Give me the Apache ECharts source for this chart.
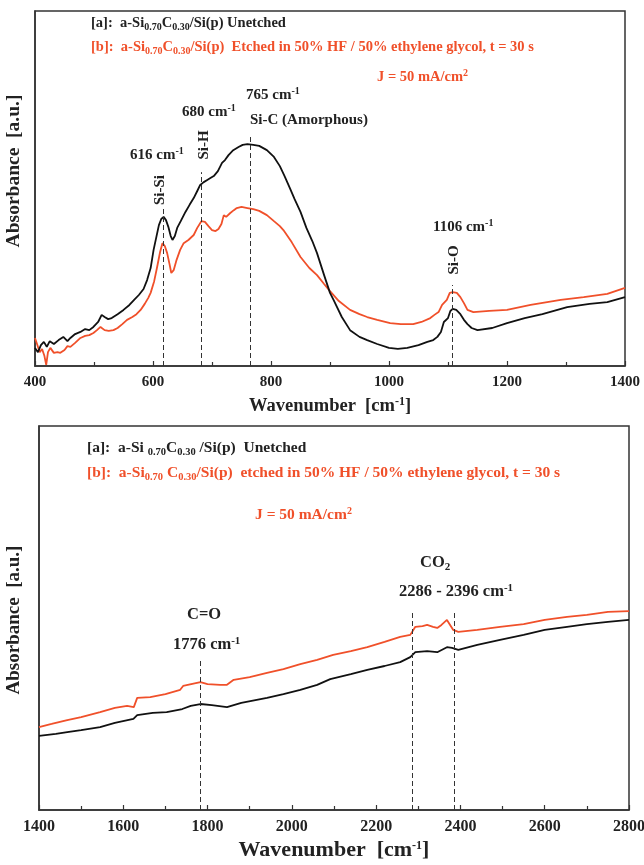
<!DOCTYPE html>
<html>
<head>
<meta charset="utf-8">
<script src="https://cdn.jsdelivr.net/npm/echarts@6/dist/echarts.min.js"></script>
<style>
  html, body { margin: 0; padding: 0; background: #fff; }
  #chart { width: 644px; height: 865px; }
</style>
</head>
<body>
<div id="chart"></div>
<script>
// top panel, 400-1400 cm-1 : [wavenumber, absorbance a.u.]
var topUnetched = [
  [400,5.1],[405,3.9],[410,5.9],[415,6.8],[420,5.4],[425,7.0],[432,6.2],[440,7.3],[448,8.2],[455,7.0],
  [460,7.9],[468,9.0],[477,9.6],[485,10.4],[492,10.1],[499,11.0],[507,12.4],[513,14.4],[518,13.8],[524,13.2],
  [530,13.5],[540,14.6],[550,15.8],[560,17.2],[568,18.6],[576,20.0],[584,21.7],[590,24.2],[596,27.6],[601,32.7],
  [606,36.6],[610,39.7],[614,41.4],[618,42.0],[622,41.1],[626,39.2],[630,36.6],[633,35.5],[637,36.6],[641,38.9],
  [647,40.8],[655,43.4],[662,45.4],[669,47.3],[675,49.3],[680,51.0],[686,51.8],[692,52.4],[698,53.0],[703,53.5],
  [710,54.9],[717,57.2],[722,58.0],[728,59.4],[736,60.8],[745,61.7],[752,62.3],[760,62.5],[770,62.3],[780,62.0],
  [793,60.8],[805,58.9],[815,56.3],[823,53.5],[832,50.1],[840,47.0],[850,43.4],[860,38.9],[870,35.2],[878,31.8],
  [890,25.6],[900,20.6],[906,18.6],[920,13.8],[934,10.1],[950,8.2],[963,7.3],[980,6.2],[1000,5.1],[1015,4.8],
  [1031,5.1],[1050,5.9],[1065,6.8],[1075,7.3],[1082,8.2],[1088,9.6],[1093,12.4],[1100,13.5],[1104,15.5],[1108,16.1],
  [1114,15.8],[1121,14.6],[1127,13.0],[1133,11.8],[1140,10.7],[1150,10.1],[1175,10.7],[1200,12.1],[1230,13.5],[1260,14.6],
  [1302,16.6],[1340,17.5],[1370,18.0],[1400,19.4]
];
var topEtched = [
  [400,7.9],[404,5.9],[408,3.9],[412,4.8],[416,2.8],[419,0.3],[422,3.9],[426,5.1],[432,3.7],[438,3.9],
  [443,3.7],[450,4.5],[455,5.6],[460,5.4],[468,6.5],[477,7.9],[485,8.5],[492,8.7],[499,9.3],[505,10.1],
  [511,11.0],[518,10.1],[525,9.9],[533,10.1],[540,10.7],[548,11.8],[556,13.0],[565,13.8],[572,14.6],[579,15.8],
  [586,17.5],[592,19.2],[596,20.6],[602,23.9],[607,27.9],[612,32.1],[616,34.6],[620,33.8],[624,31.8],[628,28.7],
  [631,26.2],[635,27.0],[640,29.9],[646,32.7],[652,34.6],[660,35.5],[669,36.9],[675,38.9],[682,40.8],[688,40.6],
  [694,39.4],[700,38.3],[706,38.0],[711,38.6],[716,40.0],[720,42.5],[724,42.0],[731,43.1],[737,43.9],[742,44.5],
  [750,44.8],[760,44.5],[770,44.2],[780,43.7],[793,42.5],[805,40.8],[815,39.4],[821,38.3],[835,34.9],[850,30.7],
  [865,27.6],[878,25.6],[890,23.1],[900,21.1],[915,18.3],[934,15.8],[950,14.6],[963,13.8],[980,13.0],[1002,12.1],
  [1020,11.8],[1041,11.8],[1055,12.4],[1070,13.5],[1077,14.4],[1084,15.2],[1090,17.2],[1098,18.6],[1103,20.6],[1108,20.8],
  [1115,20.6],[1121,19.4],[1127,17.7],[1133,15.8],[1143,15.2],[1170,15.5],[1200,15.8],[1240,17.2],[1291,18.6],[1330,19.4],
  [1370,20.3],[1400,22.0]
];
// bottom panel, 1400-2800 cm-1
var botUnetched = [
  [1400,19.3],[1440,19.8],[1467,20.3],[1500,20.8],[1545,21.6],[1580,22.7],[1624,23.7],[1633,24.7],[1670,25.3],[1703,25.5],
  [1740,26.3],[1760,27.1],[1783,27.6],[1810,27.3],[1846,26.8],[1880,27.9],[1941,29.2],[1980,30.2],[2020,31.3],[2060,32.6],
  [2091,34.1],[2140,35.4],[2179,36.5],[2220,37.5],[2257,38.5],[2281,39.8],[2293,41.1],[2321,41.4],[2345,41.1],[2368,42.4],
  [2380,42.2],[2395,41.7],[2440,43.0],[2494,44.3],[2550,45.6],[2600,46.9],[2653,47.7],[2700,48.4],[2750,49.0],[2800,49.5]
];
var botEtched = [
  [1400,21.6],[1430,22.4],[1467,23.4],[1500,24.2],[1545,25.5],[1580,26.6],[1609,27.1],[1625,26.8],[1633,29.2],[1664,29.4],
  [1700,30.2],[1735,31.3],[1742,32.3],[1783,33.3],[1800,32.8],[1830,32.6],[1846,32.6],[1862,33.9],[1900,34.6],[1941,35.7],
  [1980,36.7],[2020,38.0],[2060,39.1],[2098,40.4],[2140,41.4],[2179,42.4],[2220,43.8],[2257,45.1],[2281,45.6],[2293,47.7],
  [2310,47.9],[2321,48.2],[2335,47.7],[2345,47.4],[2355,48.2],[2368,49.5],[2383,46.9],[2395,46.4],[2440,46.9],[2494,47.7],
  [2550,48.4],[2600,49.5],[2653,50.3],[2700,50.8],[2750,51.6],[2800,51.8]
];
// dashed peak markers : [wavenumber, top of dash]
var topPeaks = [[618,44.5],[681,54.6],[764,64.5],[1108,22.8]];
var botPeaks = [[1783,39.1],[2285,51.3],[2385,51.3]];

var red = '#f0502a';
var ink = '#222';
var serif = '"Liberation Serif", "DejaVu Serif", serif';

function peakLines(list) {
  return list.map(function(p) {
    return [{ coord: [p[0], 0] }, { coord: [p[0], p[1]] }];
  });
}

// rich styles for graphic text (zrender uses fill)
function st(size, col, pad) {
  var s = { fontFamily: serif, fontWeight: 'bold', fontSize: size, fill: col };
  if (pad) s.padding = pad;
  return s;
}
var rich = {
  t: st(14.5, ink),
  r: st(14.5, red),
  ts: st(10, ink, [9, 0, 0, 0]),
  rs: st(10, red, [9, 0, 0, 0]),
  // bottom panel legend text is a bit larger
  t2: st(15.5, ink),
  r2: st(15.5, red),
  ts2: st(10.5, ink, [9, 0, 0, 0]),
  rs2: st(10.5, red, [9, 0, 0, 0]),
  rp: st(10, red, [0, 0, 7, 0]),
  p: st(15, ink),
  pp: st(10, ink, [0, 0, 7, 0]),
  q: st(16.5, ink),
  qp: st(11, ink, [0, 0, 8, 0]),
  qs: st(11, ink, [9, 0, 0, 0])
};

function txt(x, y, str, rot, size) {
  return {
    type: 'text', x: x, y: y, rotation: rot || 0,
    style: { text: str, rich: rich, fontFamily: serif, fontWeight: 'bold', fontSize: size || 14, fill: ink,
      align: rot ? 'center' : 'left', verticalAlign: 'middle' }
  };
}

function xAxisFor(idx, min, max, nameSize, labelSize, gap) {
  return {
    gridIndex: idx, type: 'value', min: min, max: max, interval: 200,
    name: '{a|Wavenumber  [cm}{b|-1}{a|]}', nameLocation: 'middle', nameGap: gap,
    nameTextStyle: { rich: {
      a: { fontFamily: serif, fontWeight: 'bold', fontSize: nameSize, color: ink },
      b: { fontFamily: serif, fontWeight: 'bold', fontSize: 12, color: ink, padding: [0, 0, 9, 0] }
    } },
    axisLine: { lineStyle: { color: '#333', width: 1.5 } },
    axisTick: { inside: true, length: 5, lineStyle: { color: '#333', width: 1.2 } },
    minorTick: { show: true, splitNumber: 2, length: 4, lineStyle: { color: '#333', width: 1.2 } },
    axisLabel: { fontFamily: serif, fontWeight: 'bold', fontSize: labelSize, color: ink, margin: 9,
      formatter: function(v) { return String(v); } },
    splitLine: { show: false }
  };
}

function yAxisFor(idx) {
  return {
    gridIndex: idx, type: 'value', min: 0, max: 100,
    axisLine: { show: true, lineStyle: { color: '#333', width: 1.5 } },
    axisTick: { show: false }, axisLabel: { show: false }, splitLine: { show: false }
  };
}

function spectrum(name, data, color, idx, peaks) {
  var s = {
    name: name, type: 'line', data: data, xAxisIndex: idx, yAxisIndex: idx,
    showSymbol: false, lineStyle: { color: color, width: 1.8 }, animation: false
  };
  if (peaks) {
    s.markLine = {
      silent: true, symbol: 'none', label: { show: false },
      lineStyle: { color: '#333', type: [5, 3], width: 1 },
      data: peakLines(peaks)
    };
  }
  return s;
}

var myChart = echarts.init(document.getElementById('chart'));
var option = {
  animation: false,
  grid: [
    { left: 35, top: 11, width: 590, height: 355, show: true, borderColor: '#333', borderWidth: 1.5,
      outerBoundsMode: 'none' },
    { left: 39, top: 426, width: 590, height: 384, show: true, borderColor: '#333', borderWidth: 1.5,
      outerBoundsMode: 'none' }
  ],
  xAxis: [xAxisFor(0, 400, 1400, 18.5, 15, 30), xAxisFor(1, 1400, 2800, 22, 16, 29)],
  yAxis: [yAxisFor(0), yAxisFor(1)],
  series: [
    spectrum('[b] etched', topEtched, red, 0),
    spectrum('[a] unetched', topUnetched, '#111', 0, topPeaks),
    spectrum('[b] etched', botEtched, red, 1),
    spectrum('[a] unetched', botUnetched, '#111', 1, botPeaks)
  ],
  graphic: [
    // top panel
    txt(91, 23, '{t|[a]:  a-Si}{ts|0.70}{t|C}{ts|0.30}{t|/Si(p) Unetched}'),
    txt(91, 47, '{r|[b]:  a-Si}{rs|0.70}{r|C}{rs|0.30}{r|/Si(p)  Etched in 50% HF / 50% ethylene glycol, t = 30 s}'),
    txt(377, 77, '{r|J = 50 mA/cm}{rp|2}'),
    txt(246, 95, '{p|765 cm}{pp|-1}'),
    txt(182, 112, '{p|680 cm}{pp|-1}'),
    txt(250, 120, '{p|Si-C (Amorphous)}'),
    txt(130, 155, '{p|616 cm}{pp|-1}'),
    txt(433, 227, '{p|1106 cm}{pp|-1}'),
    txt(160, 190, 'Si-Si', Math.PI / 2, 15),
    txt(204, 145, 'Si-H', Math.PI / 2, 15),
    txt(454, 260, 'Si-O', Math.PI / 2, 15),
    txt(14, 171, 'Absorbance  [a.u.]', Math.PI / 2, 19.5),
    // bottom panel
    txt(87, 448, '{t2|[a]:  a-Si }{ts2|0.70}{t2|C}{ts2|0.30}{t2| /Si(p)  Unetched}'),
    txt(87, 473, '{r2|[b]:  a-Si}{rs2|0.70}{r2| C}{rs2|0.30}{r2|/Si(p)  etched in 50% HF / 50% ethylene glycol, t = 30 s}'),
    txt(255, 515, '{r2|J = 50 mA/cm}{rp|2}'),
    txt(420, 563, '{q|CO}{qs|2}'),
    txt(399, 592, '{q|2286 - 2396 cm}{qp|-1}'),
    txt(187, 615, '{q|C=O}'),
    txt(173, 645, '{q|1776 cm}{qp|-1}'),
    txt(14, 620, 'Absorbance  [a.u.]', Math.PI / 2, 19)
  ]
};
myChart.setOption(option);
</script>
</body>
</html>
